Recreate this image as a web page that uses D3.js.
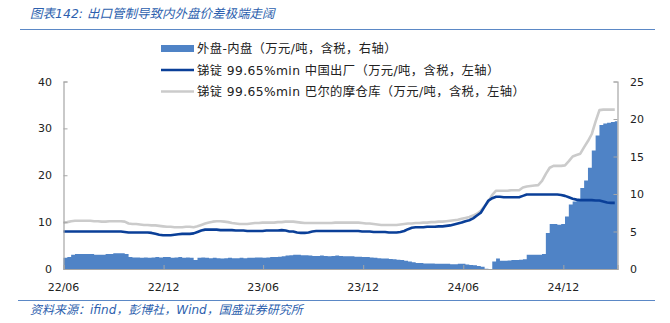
<!DOCTYPE html>
<html>
<head>
<meta charset="utf-8">
<script src="https://cdn.jsdelivr.net/npm/d3@7/dist/d3.min.js"></script>
<style>
  html, body { margin: 0; padding: 0; background: #fff; }
  svg { display: block; }
  text { font-family: "DejaVu Sans", "Noto Sans CJK SC", sans-serif; }
</style>
</head>
<body>
<svg id="chart" width="670" height="323"></svg>
<script>
// Weekly observations starting 2022-06-01
const startDate = "2022-06-01";
const weekCount = 145;

// 锑锭 99.65%min 巴尔的摩仓库 (万元/吨, 左轴)
const rotterdamPrice = [
  9.9,10.0,10.2,10.3,10.3,10.3,10.3,10.3,10.2,10.2,10.1,10.1,10.2,
  10.2,10.2,10.2,10.1,9.7,9.6,9.6,9.5,9.4,9.4,9.3,9.3,9.2,
  9.1,9.0,9.0,8.9,8.9,8.9,9.0,9.0,8.9,9.1,9.4,9.7,9.9,
  10.1,10.2,10.2,10.1,10.0,9.8,9.7,9.6,9.6,9.6,9.7,9.8,9.8,
  9.9,9.9,9.9,9.9,10.0,10.0,10.1,10.1,10.1,10.0,9.9,9.8,9.8,
  9.8,9.8,9.8,9.8,9.8,9.8,9.9,9.9,9.9,9.9,9.9,9.9,9.9,
  9.8,9.7,9.7,9.6,9.5,9.4,9.4,9.4,9.4,9.4,9.5,9.6,9.7,
  9.7,9.8,9.8,9.9,9.9,10.0,10.0,10.1,10.1,10.2,10.3,10.4,10.5,
  10.7,10.9,11.1,11.4,11.8,12.4,13.4,14.4,15.8,16.7,16.7,16.7,16.7,
  16.8,16.8,16.8,17.4,17.6,17.7,17.8,17.9,18.8,20.3,21.6,22.0,22.0,
  22.0,22.1,23.0,24.0,24.3,24.6,26.0,27.3,28.8,31.5,33.9,34.0,34.0,
  34.0,34.0
];

// 锑锭 99.65%min 中国出厂 (万元/吨, 左轴)
const chinaPrice = [
  8.0,8.0,8.0,8.0,8.0,8.0,8.0,8.0,8.0,8.0,8.0,8.0,8.0,
  8.0,8.0,8.0,7.9,7.8,7.8,7.8,7.8,7.8,7.8,7.7,7.5,7.3,
  7.2,7.2,7.2,7.3,7.4,7.5,7.5,7.5,7.6,7.9,8.2,8.4,8.4,
  8.4,8.4,8.3,8.3,8.3,8.3,8.2,8.2,8.2,8.1,8.1,8.1,8.1,
  8.1,8.2,8.2,8.2,8.2,8.3,8.2,8.0,8.0,7.8,7.7,7.7,7.8,
  8.0,8.1,8.1,8.1,8.1,8.1,8.1,8.1,8.1,8.1,8.1,8.1,8.1,
  8.0,8.0,8.0,7.9,7.9,7.9,7.9,7.8,7.8,7.8,7.9,8.1,8.5,
  8.8,8.9,8.9,8.9,9.0,9.0,9.0,9.1,9.1,9.2,9.3,9.5,9.7,
  9.9,10.2,10.4,10.8,11.4,12.0,13.3,14.6,15.1,15.4,15.4,15.3,15.3,
  15.3,15.3,15.3,15.6,15.9,15.9,15.9,15.9,15.9,15.9,15.9,15.9,15.9,
  15.8,15.6,15.3,15.0,14.8,14.7,14.7,14.7,14.7,14.6,14.6,14.4,14.2,
  14.1,14.1
];

// 外盘-内盘 (万元/吨, 右轴)
const spread = [
  1.5,1.6,1.9,2.0,2.0,2.0,2.0,2.0,1.9,1.9,1.9,2.0,2.0,
  2.1,2.1,2.1,2.0,1.6,1.55,1.55,1.5,1.55,1.5,1.55,1.6,1.55,
  1.6,1.6,1.5,1.55,1.6,1.5,1.55,1.5,1.2,1.5,1.55,1.5,1.45,
  1.5,1.45,1.4,1.45,1.5,1.45,1.45,1.5,1.45,1.5,1.5,1.55,1.55,
  1.5,1.55,1.6,1.6,1.65,1.7,1.8,1.85,1.9,1.9,1.85,1.85,1.8,
  1.75,1.75,1.8,1.75,1.7,1.75,1.8,1.75,1.7,1.7,1.7,1.65,1.65,
  1.6,1.6,1.55,1.5,1.45,1.4,1.4,1.35,1.3,1.25,1.2,1.1,1.0,
  0.9,0.8,0.8,0.75,0.75,0.75,0.7,0.7,0.7,0.7,0.65,0.65,0.7,
  0.7,0.6,0.55,0.5,0.4,0.3,0.05,-0.1,1.0,1.4,1.1,1.1,1.15,
  1.2,1.2,1.25,1.3,1.9,1.9,1.9,1.9,2.0,4.8,6.0,6.0,5.9,
  6.0,7.0,8.6,9.0,9.1,10.8,11.8,13.5,15.8,17.8,19.2,19.4,19.5,
  19.6,19.7
];

const leftTicks = [0, 10, 20, 30, 40];
const rightTicks = [0, 5, 10, 15, 20, 25];
const xTickDates = ["2022-06-01", "2022-12-01", "2023-06-01", "2023-12-01", "2024-06-01", "2024-12-01"];

const legendItems = [
  { label: "外盘-内盘（万元/吨，含税，右轴）", kind: "bar" },
  { label: "锑锭 99.65%min 中国出厂（万元/吨，含税，左轴）", kind: "china" },
  { label: "锑锭 99.65%min 巴尔的摩仓库（万元/吨，含税，左轴）", kind: "rotterdam" }
];

const titleText = "图表142:  出口管制导致内外盘价差极端走阔";
const sourceText = "资料来源：ifind，彭博社，Wind，国盛证券研究所";

// ---- styling ----
const barColor = "#4f83c6";
const chinaColor = "#0a3f98";
const rotterdamColor = "#cbcbcb";
const axisColor = "#a6a6a6";
const headColor = "#2d5fae";

const parse = d3.timeParse("%Y-%m-%d");
const t0 = parse(startDate);
const endDate = parse("2025-03-10");
const dates = d3.range(weekCount).map(i => d3.timeDay.offset(t0, 7 * i));
const rows = dates.map((d, i) => ({ date: d, rot: rotterdamPrice[i], cn: chinaPrice[i], sp: spread[i] }));

const plot = { left: 63.5, right: 617.5, top: 81.5, bottom: 269 };

const svg = d3.select("#chart");

const x = d3.scaleTime().domain([t0, endDate]).range([plot.left, plot.right]);
const yL = d3.scaleLinear().domain([0, 40]).range([plot.bottom, plot.top]);
const yR = d3.scaleLinear().domain([0, 25]).range([plot.bottom, plot.top]);

// Title and header rule
svg.append("text")
  .attr("x", 30).attr("y", 18)
  .attr("font-size", 12.5)
  .attr("font-style", "italic")
  .attr("fill", headColor)
  .attr("font-family", "\"Noto Sans CJK SC\", sans-serif")
  .text(titleText);
svg.append("line")
  .attr("x1", 20).attr("x2", 655).attr("y1", 29.5).attr("y2", 29.5)
  .attr("stroke", "#5b88c6").attr("stroke-width", 1);

const g = svg.append("g");

// Spread bars (right axis): contiguous weekly columns drawn as one stepped shape
const barRows = rows.concat([{ date: endDate, sp: spread[spread.length - 1] }]);
const barArea = d3.area()
  .curve(d3.curveStepAfter)
  .x(d => x(d.date))
  .y0(yR(0))
  .y1(d => yR(d.sp));
g.append("path").datum(barRows)
  .attr("d", barArea)
  .attr("fill", barColor);

// Price lines (left axis)
const lineRot = d3.line().x(d => x(d.date)).y(d => yL(d.rot));
const lineCn = d3.line().x(d => x(d.date)).y(d => yL(d.cn));
g.append("path").datum(rows)
  .attr("d", lineRot).attr("fill", "none")
  .attr("stroke", rotterdamColor).attr("stroke-width", 2.6)
  .attr("stroke-linejoin", "round");
g.append("path").datum(rows)
  .attr("d", lineCn).attr("fill", "none")
  .attr("stroke", chinaColor).attr("stroke-width", 2.6)
  .attr("stroke-linejoin", "round");

// Axes
const axisFont = 11;
const leftAxis = svg.append("g").attr("transform", `translate(${plot.left},0)`)
  .call(d3.axisRight(yL).tickValues(leftTicks).tickSize(4).tickFormat(""));
const rightAxis = svg.append("g").attr("transform", `translate(${plot.right},0)`)
  .call(d3.axisLeft(yR).tickValues(rightTicks).tickSize(4).tickFormat(""));
const bottomAxis = svg.append("g").attr("transform", `translate(0,${plot.bottom})`)
  .call(d3.axisTop(x).tickValues(xTickDates.map(parse)).tickSize(4).tickFormat(""));
[leftAxis, rightAxis, bottomAxis].forEach(a => {
  a.selectAll("path.domain").attr("stroke", axisColor).attr("stroke-width", 1.2);
  a.selectAll(".tick line").attr("stroke", axisColor);
});

// Tick labels
svg.append("g").selectAll("text")
  .data(leftTicks).join("text")
  .attr("x", 52).attr("y", d => yL(d) + 4)
  .attr("text-anchor", "end").attr("font-size", axisFont).attr("fill", "#222")
  .text(d => d);
svg.append("g").selectAll("text")
  .data(rightTicks).join("text")
  .attr("x", 630).attr("y", d => yR(d) + 4)
  .attr("text-anchor", "start").attr("font-size", axisFont).attr("fill", "#222")
  .text(d => d);
const fmt = d3.timeFormat("%y/%m");
svg.append("g").selectAll("text")
  .data(xTickDates.map(parse)).join("text")
  .attr("x", d => x(d)).attr("y", 291)
  .attr("text-anchor", "middle").attr("font-size", axisFont).attr("fill", "#222")
  .text(d => fmt(d));

// Legend
const legend = svg.append("g");
legendItems.forEach((it, i) => {
  const cy = 48.5 + i * 21.5;
  if (it.kind === "bar") {
    legend.append("rect").attr("x", 161).attr("y", cy - 3.5).attr("width", 33).attr("height", 7).attr("fill", barColor);
  } else {
    legend.append("line").attr("x1", 161).attr("x2", 194).attr("y1", cy).attr("y2", cy)
      .attr("stroke", it.kind === "china" ? chinaColor : rotterdamColor).attr("stroke-width", 2.6);
  }
  legend.append("text").attr("x", 197).attr("y", cy + 4.5)
    .attr("font-size", 12.3).attr("letter-spacing", 0.4).attr("fill", "#222")
    .text(it.label);
});

// Footer rule and source note
svg.append("line")
  .attr("x1", 18).attr("x2", 655).attr("y1", 300.5).attr("y2", 300.5)
  .attr("stroke", "#5b88c6").attr("stroke-width", 1);
svg.append("text")
  .attr("x", 30).attr("y", 314)
  .attr("font-size", 12)
  .attr("font-style", "italic")
  .attr("fill", headColor)
  .attr("font-family", "\"Noto Sans CJK SC\", sans-serif")
  .text(sourceText);
</script>
</body>
</html>
